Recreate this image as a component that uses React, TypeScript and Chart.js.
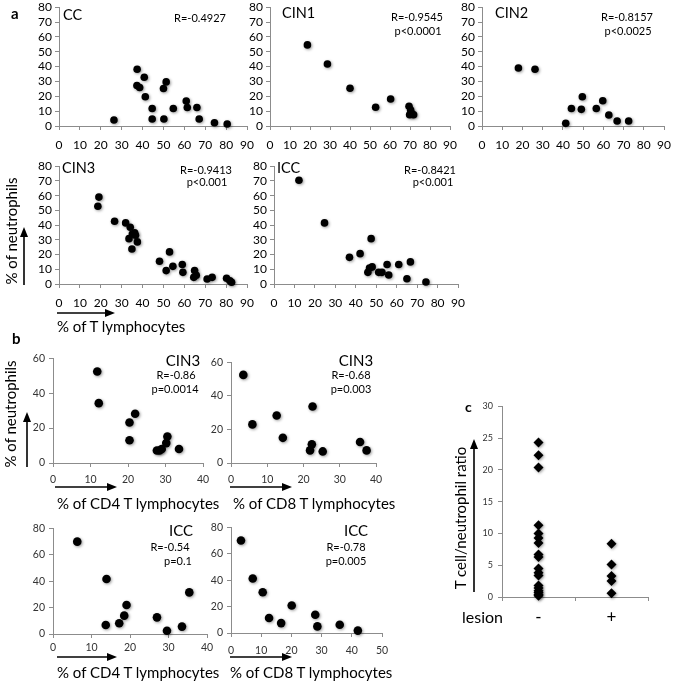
import { useEffect, useRef } from 'react';
import { Chart, registerables } from 'chart.js';

Chart.register(...registerables);

const FONT = 'Lato, "Open Sans", sans-serif';
const AXIS = '#8c8c8c';

// a: % of T lymphocytes (x) vs % of neutrophils (y)
const ccT = [26.3, 37.4, 37.3, 38.6, 40.8, 41.3, 44.6, 44.6, 50.0, 51.3, 50.2, 54.7, 60.9, 61.4, 66.0, 67.1, 74.4, 80.5];
const ccN = [4.0, 38.2, 27.3, 25.9, 32.8, 19.7, 11.8, 4.7, 25.3, 29.7, 4.7, 11.8, 16.8, 12.5, 12.5, 4.7, 2.2, 1.3];

const cin1T = [18.7, 28.7, 40.0, 52.8, 60.3, 69.5, 70.3, 70.8, 69.8, 71.8];
const cin1N = [54.6, 41.8, 25.4, 12.6, 18.2, 13.3, 10.8, 8.6, 7.6, 7.6];

const cin2T = [18.0, 26.2, 41.4, 44.2, 49.6, 49.1, 56.5, 59.7, 62.7, 66.8, 72.5];
const cin2N = [39.1, 38.2, 1.8, 11.8, 19.7, 11.2, 11.8, 17.0, 7.4, 3.4, 3.4];

const cin3T = [18.6, 19.1, 26.6, 31.9, 34.1, 33.5, 35.1, 36.2, 36.6, 34.9, 37.5, 48.1, 51.3, 52.9, 54.5, 59.0, 59.3, 64.9, 64.5, 65.7, 70.9, 73.3, 80.2, 81.8, 82.6];
const cin3N = [52.8, 59.0, 42.6, 41.5, 38.5, 30.8, 34.0, 34.7, 33.1, 23.8, 28.6, 15.4, 9.1, 21.8, 12.0, 13.2, 7.9, 9.1, 4.5, 5.9, 3.4, 4.5, 3.9, 2.2, 1.2];

const iccT = [12.2, 24.7, 47.5, 36.9, 42.1, 45.9, 46.7, 48.0, 51.2, 52.8, 55.3, 56.1, 61.0, 65.0, 66.7, 74.3];
const iccN = [70.5, 41.5, 30.8, 18.1, 20.6, 7.9, 10.9, 11.6, 7.9, 7.9, 13.2, 6.1, 13.2, 3.6, 15.0, 1.4];

// b: CD4 / CD8 T lymphocytes vs neutrophils
const cd4Cin3T = [11.8, 12.2, 20.4, 20.4, 21.9, 27.7, 28.4, 29.0, 30.2, 30.5, 33.6];
const cd4Cin3N = [52.4, 34.3, 23.2, 13.0, 28.2, 7.2, 7.2, 8.0, 11.4, 15.2, 8.0];

const cd8Cin3T = [3.4, 5.9, 12.6, 14.3, 22.5, 22.3, 21.8, 25.3, 35.6, 37.4];
const cd8Cin3N = [52.5, 23.0, 28.3, 15.0, 33.7, 11.1, 7.5, 6.9, 12.5, 7.5];

const cd4IccT = [6.3, 13.9, 13.7, 17.2, 18.5, 19.1, 27.0, 29.6, 33.5, 35.4];
const cd4IccN = [69.9, 41.6, 6.8, 8.1, 13.9, 22.0, 12.6, 2.5, 5.6, 31.5];

const cd8IccT = [3.3, 7.2, 10.5, 12.6, 16.6, 20.1, 27.9, 28.6, 36.0, 42.0];
const cd8IccN = [70.0, 41.3, 30.8, 11.3, 7.5, 20.8, 13.8, 5.0, 6.3, 1.8];

// c: T cell / neutrophil ratio by lesion
const lesionCats = ['-', '+'];
const lesionNeg = [24.3, 22.3, 20.4, 11.3, 10.0, 9.3, 8.5, 6.7, 6.3, 4.5, 3.8, 3.4, 1.8, 1.4, 1.0, 0.7, 0.4, 0.2];
const lesionPos = [8.4, 5.1, 3.3, 2.5, 0.6];

const YW = 40;
const XH = 34;
const PT = 10;
const PR = 14;

const glow = {
  id: 'glow',
  beforeDatasetsDraw(chart: Chart) {
    const c = chart.ctx;
    c.save();
    c.shadowColor = 'rgba(0,0,0,0.4)';
    c.shadowBlur = 3;
    c.shadowOffsetX = 1;
    c.shadowOffsetY = 1;
  },
  afterDatasetsDraw(chart: Chart) {
    chart.ctx.restore();
  },
};

type Rect = { left: number; top: number; right: number; bottom: number };

function axis(size: number, pad: number, color: string, fit: (s: any) => void, extra: any) {
  return {
    ...extra,
    ticks: { ...(extra.ticks || {}), color, padding: pad, font: { family: FONT, size }, autoSkip: false, maxRotation: 0 },
    grid: { drawOnChartArea: false, drawTicks: true, tickLength: 4, color: AXIS, ...(extra.grid || {}) },
    border: { display: true, color: AXIS, width: 1 },
    afterFit: fit,
  };
}

function Box({ area, children }: { area: Rect; children: any }) {
  return (
    <div
      style={{
        position: 'absolute',
        left: area.left - YW,
        top: area.top - PT,
        width: YW + area.right - area.left + PR,
        height: PT + area.bottom - area.top + XH,
      }}
    >
      {children}
    </div>
  );
}

interface ScatterProps {
  area: Rect;
  xs: number[];
  ys: number[];
  xMax: number;
  xStep: number;
  yMax: number;
  yStep: number;
  tick: number;
  xPad: number;
  yPad: number;
  radius: number;
  color: string;
}

function Scatter({ area, xs, ys, xMax, xStep, yMax, yStep, tick, xPad, yPad, radius, color }: ScatterProps) {
  const ref = useRef<HTMLCanvasElement>(null);
  useEffect(() => {
    if (!ref.current) return;
    const chart = new Chart(ref.current, {
      type: 'scatter',
      data: {
        datasets: [
          {
            data: xs.map((x, i) => ({ x, y: ys[i] })),
            backgroundColor: '#000',
            borderColor: '#000',
            borderWidth: 0,
            pointRadius: radius,
            pointHoverRadius: radius,
            clip: false,
          },
        ],
      },
      options: {
        animation: false,
        responsive: true,
        maintainAspectRatio: false,
        events: [],
        layout: { padding: { top: PT, right: PR, left: 0, bottom: 0 } },
        plugins: { legend: { display: false }, tooltip: { enabled: false } },
        scales: {
          x: axis(tick, xPad, color, (s) => { s.height = XH; }, { type: 'linear', min: 0, max: xMax, ticks: { stepSize: xStep } }),
          y: axis(tick, yPad, color, (s) => { s.width = YW; }, { type: 'linear', min: 0, max: yMax, ticks: { stepSize: yStep } }),
        },
      },
      plugins: [glow],
    } as any);
    return () => chart.destroy();
  }, []);
  return (
    <Box area={area}>
      <canvas ref={ref} />
    </Box>
  );
}

function RatioChart({ area }: { area: Rect }) {
  const ref = useRef<HTMLCanvasElement>(null);
  useEffect(() => {
    if (!ref.current) return;
    const diamond = {
      showLine: false,
      pointStyle: 'rectRot',
      pointRadius: 5,
      pointHoverRadius: 5,
      backgroundColor: '#000',
      borderColor: '#000',
      borderWidth: 0,
      clip: false,
    };
    const chart = new Chart(ref.current, {
      type: 'line',
      data: {
        labels: lesionCats,
        datasets: [
          { ...diamond, data: lesionNeg.map((y) => ({ x: lesionCats[0], y })) },
          { ...diamond, data: lesionPos.map((y) => ({ x: lesionCats[1], y })) },
        ],
      },
      options: {
        animation: false,
        responsive: true,
        maintainAspectRatio: false,
        events: [],
        layout: { padding: { top: PT, right: PR, left: 0, bottom: 0 } },
        plugins: { legend: { display: false }, tooltip: { enabled: false } },
        scales: {
          x: axis(17, 6, '#000', (s) => { s.height = XH; }, { type: 'category', offset: true, grid: { offset: true } }),
          y: axis(9, 5, '#333', (s) => { s.width = YW; }, { type: 'linear', min: 0, max: 30, ticks: { stepSize: 5 } }),
        },
      },
      plugins: [glow],
    } as any);
    return () => chart.destroy();
  }, []);
  return (
    <Box area={area}>
      <canvas ref={ref} />
    </Box>
  );
}

function Txt({ x, y, size, align = 'left', bold = false, rotate = false, children }: any) {
  const base: any = {
    position: 'absolute',
    fontFamily: FONT,
    fontSize: size,
    lineHeight: `${size}px`,
    fontWeight: bold ? 700 : 400,
    whiteSpace: 'nowrap',
    color: '#000',
  };
  if (rotate) {
    return (
      <div style={{ ...base, left: x, top: y, transform: 'translate(-50%, -50%) rotate(-90deg)' }}>{children}</div>
    );
  }
  const pos: any = { top: y - size / 2 };
  if (align === 'left') pos.left = x;
  if (align === 'right') pos.right = 675 - x;
  if (align === 'center') {
    pos.left = x;
    pos.transform = 'translateX(-50%)';
  }
  return <div style={{ ...base, ...pos }}>{children}</div>;
}

function Arrows() {
  const list = [
    [24, 285, 24, 227],
    [57, 313, 115, 313],
    [27, 467, 27, 412],
    [55, 487, 117, 487],
    [230, 487, 292, 487],
    [57, 657, 117, 657],
    [230, 657, 292, 657],
    [474, 592, 474, 439],
  ];
  return (
    <svg width={675} height={684} style={{ position: 'absolute', left: 0, top: 0 }}>
      {list.map(([x1, y1, x2, y2], i) => {
        const len = Math.hypot(x2 - x1, y2 - y1);
        const ux = (x2 - x1) / len;
        const uy = (y2 - y1) / len;
        const bx = x2 - ux * 10;
        const by = y2 - uy * 10;
        const px = -uy * 4;
        const py = ux * 4;
        return (
          <g key={i}>
            <line x1={x1} y1={y1} x2={bx} y2={by} stroke="#000" strokeWidth={1.6} />
            <polygon points={`${x2},${y2} ${bx + px},${by + py} ${bx - px},${by - py}`} fill="#000" />
          </g>
        );
      })}
    </svg>
  );
}

export default function App() {
  const a = { xMax: 90, xStep: 10, yMax: 80, yStep: 10, tick: 12, radius: 3.8, color: '#000' };
  const b = { xStep: 10, tick: 10.5, radius: 4.3, color: '#333', yPad: 4 };
  return (
    <div style={{ position: 'absolute', left: 0, top: 0, width: 675, height: 684, background: '#fff', overflow: 'hidden' }}>
      <Scatter {...a} area={{ left: 59, top: 7, right: 248, bottom: 126 }} xs={ccT} ys={ccN} xPad={8} yPad={3} />
      <Scatter {...a} area={{ left: 270, top: 7, right: 451, bottom: 126 }} xs={cin1T} ys={cin1N} xPad={8} yPad={3} />
      <Scatter {...a} area={{ left: 482, top: 7, right: 665, bottom: 126 }} xs={cin2T} ys={cin2N} xPad={8} yPad={3} />
      <Scatter {...a} area={{ left: 59, top: 166, right: 248, bottom: 284 }} xs={cin3T} ys={cin3N} xPad={8} yPad={3} />
      <Scatter {...a} area={{ left: 274, top: 166, right: 459, bottom: 284 }} xs={iccT} ys={iccN} xPad={8} yPad={3} />

      <Scatter {...b} area={{ left: 53, top: 358, right: 203, bottom: 463 }} xs={cd4Cin3T} ys={cd4Cin3N} xMax={40} yMax={60} yStep={20} xPad={6} />
      <Scatter {...b} area={{ left: 231, top: 362, right: 376, bottom: 463 }} xs={cd8Cin3T} ys={cd8Cin3N} xMax={40} yMax={60} yStep={20} xPad={6} />
      <Scatter {...b} area={{ left: 53, top: 528, right: 207, bottom: 634 }} xs={cd4IccT} ys={cd4IccN} xMax={40} yMax={80} yStep={20} xPad={3} />
      <Scatter {...b} area={{ left: 231, top: 527, right: 382, bottom: 633 }} xs={cd8IccT} ys={cd8IccN} xMax={50} yMax={80} yStep={20} xPad={7} />

      <RatioChart area={{ left: 502, top: 406, right: 648, bottom: 597 }} />

      <Arrows />

      <Txt x={11} y={13} size={15} bold>a</Txt>
      <Txt x={63} y={15} size={14.5}>CC</Txt>
      <Txt x={200} y={17} size={11} align="center">R=-0.4927</Txt>
      <Txt x={282} y={13} size={14.5}>CIN1</Txt>
      <Txt x={417} y={16} size={11} align="center">R=-0.9545</Txt>
      <Txt x={418} y={30} size={11} align="center">p&lt;0.0001</Txt>
      <Txt x={495} y={13} size={14.5}>CIN2</Txt>
      <Txt x={627} y={16} size={11} align="center">R=-0.8157</Txt>
      <Txt x={628} y={30} size={11} align="center">p&lt;0.0025</Txt>
      <Txt x={62} y={168} size={14.5}>CIN3</Txt>
      <Txt x={206} y={169} size={11} align="center">R=-0.9413</Txt>
      <Txt x={207} y={181} size={11} align="center">p&lt;0.001</Txt>
      <Txt x={277} y={168} size={14.5}>ICC</Txt>
      <Txt x={430} y={169} size={11} align="center">R=-0.8421</Txt>
      <Txt x={433} y={181} size={11} align="center">p&lt;0.001</Txt>
      <Txt x={11} y={231} size={15} rotate>% of neutrophils</Txt>
      <Txt x={57} y={326} size={15}>% of T lymphocytes</Txt>

      <Txt x={12} y={338} size={15} bold>b</Txt>
      <Txt x={183} y={360} size={15} align="center">CIN3</Txt>
      <Txt x={176} y={374} size={11} align="center">R=-0.86</Txt>
      <Txt x={175} y={388} size={11} align="center">p=0.0014</Txt>
      <Txt x={356} y={360} size={15} align="center">CIN3</Txt>
      <Txt x={351} y={374} size={11} align="center">R=-0.68</Txt>
      <Txt x={351} y={388} size={11} align="center">p=0.003</Txt>
      <Txt x={10} y={414} size={15} rotate>% of neutrophils</Txt>
      <Txt x={57} y={503} size={15}>% of CD4 T lymphocytes</Txt>
      <Txt x={233} y={503} size={15}>% of CD8 T lymphocytes</Txt>
      <Txt x={181} y={530} size={15} align="center">ICC</Txt>
      <Txt x={170} y={546} size={11} align="center">R=-0.54</Txt>
      <Txt x={178} y={560} size={11} align="center">p=0.1</Txt>
      <Txt x={356} y={530} size={15} align="center">ICC</Txt>
      <Txt x={346} y={546} size={11} align="center">R=-0.78</Txt>
      <Txt x={346} y={560} size={11} align="center">p=0.005</Txt>
      <Txt x={57} y={672} size={15}>% of CD4 T lymphocytes</Txt>
      <Txt x={230} y={672} size={15}>% of CD8 T lymphocytes</Txt>

      <Txt x={465} y={407} size={14} bold>c</Txt>
      <Txt x={460} y={518} size={15} rotate>T cell/neutrophil ratio</Txt>
      <Txt x={462} y={617} size={16}>lesion</Txt>
    </div>
  );
}
